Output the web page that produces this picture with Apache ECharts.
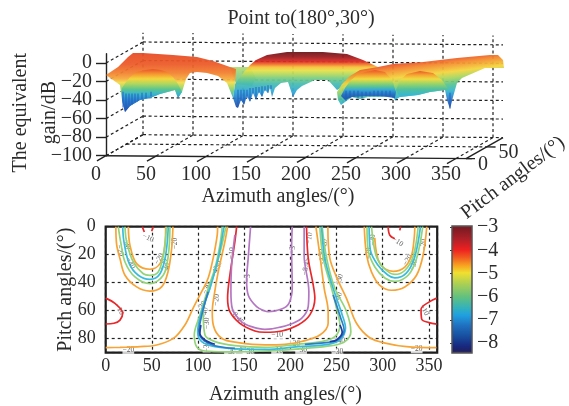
<!DOCTYPE html>
<html>
<head>
<meta charset="utf-8">
<title>Point to(180°,30°)</title>
<script src="https://cdn.jsdelivr.net/npm/echarts@6/dist/echarts.min.js"></script>
<style>
  html, body { margin: 0; background: #fff; }
  #chart { width: 569px; height: 406px; }
</style>
</head>
<body>
<div id="chart"></div>
<script>
// tick labels
const azimuthTicks3d = [0, 50, 100, 150, 200, 250, 300, 350]
const gainTicks = [-100, -80, -60, -40, -20, 0]
const pitchTicks3d = [0, 50]
const colorbarTicks = [-8, -7, -6, -5, -4, -3]

// top surface, [azimuth, gain] as read on the front plane of the box
const surfaceRoofLeft = [[0, -12.9], [12, -4.3], [22, 6.5], [27, 10.8], [37, 10.8], [67, 8.6], [91, 6.5], [107, 2.2], [124, -4.3], [130, -6.5], [129, -23.7], [127, -37.8], [121, -21.6], [112, -14], [101, -10.8], [91, -9.7], [84, -10.8], [80, -17.3], [76, -31.3], [72, -37.8], [69, -29.1], [54, -33.4], [44, -37.8], [34, -39.9], [24, -46.4], [19, -52.9], [16, -39.9], [14, -23.7]]
const surfaceArchLeft = [[16, -27], [20, -20.5], [24, -15.1], [31, -9.7], [39, -7.6], [47, -6.5], [55, -7.6], [61, -9.7], [67, -15.1], [72, -22.7], [76, -31.3], [72, -37.8], [69, -29.1], [54, -33.4], [44, -37.8], [34, -39.9], [24, -46.4], [19, -52.9], [16, -39.9]]
const surfaceNotch = [[124, -4.3], [144, -4.3], [150, -16.2], [146, -24.8], [130, -22.7]]
const surfaceCentre = [[129, -22.7], [132, -18.3], [138, -9.7], [144, -2.2], [150, 3.2], [161, 8.6], [181, 11.9], [217, 11.9], [241, 9.7], [257, 3.2], [272, -4.3], [231, -29.1], [222, -18.3], [209, -18.3], [196, -24.8], [191, -29.1], [187, -36.7], [182, -20.5], [175, -21.6], [169, -27], [166, -36.7], [164, -27], [162, -32.4], [159, -29.1], [156, -36.7], [153, -31.3], [150, -39.9], [147, -32.4], [144, -42.1], [141, -35.6], [138, -45.3], [135, -39.9], [132, -48.6], [130, -47.5], [127, -37.8]]
const surfaceRight = [[231, -31.3], [236, -22.7], [244, -14], [254, -7.6], [272, -4.3], [287, -1.1], [317, 1.1], [351, 5.4], [384, 8.6], [392, 8.6], [397, 3.2], [398, -5.4], [379, -5.4], [356, -16.2], [351, -21.6], [347, -36.7], [344, -49.6], [341, -39.9], [339, -29.1], [324, -31.3], [312, -34.5], [294, -36.7], [289, -39.9], [286, -35.6], [274, -36.7], [262, -36.7], [254, -38.8], [246, -36.7], [239, -42.1], [235, -45.3], [232, -39.9]]
const surfaceArchMid = [[235, -35.6], [239, -27], [244, -19.4], [251, -12.9], [259, -9.7], [269, -7.6], [279, -9.7], [286, -18.3], [290, -31.3], [289, -37.8], [274, -35.6], [262, -35.6], [246, -36.7], [239, -39.9]]
const surfaceArchRight = [[290, -29.1], [294, -18.3], [301, -11.9], [314, -8.6], [327, -10.8], [336, -18.3], [343, -29.1], [339, -29.1], [324, -31.3], [312, -34.5], [294, -36.7]]
// blue streaks under the surface, [azimuth, gain from, gain to]
const surfaceStreaks = [[17, -31, -48], [20, -33, -50], [23, -33, -45], [26, -33, -44], [29, -33, -42], [32, -33, -41], [36, -32, -39], [40, -32, -38], [45, -31, -36],
  [132, -29, -47], [135, -29, -41], [138, -29, -44], [141, -29, -38], [144, -27, -41], [147, -27, -33], [150, -26, -39], [153, -26, -32], [156, -25, -36], [159, -25, -30], [162, -24, -32], [165, -24, -28],
  [240, -30, -41], [244, -30, -37], [248, -30, -37], [252, -30, -38], [256, -31, -38], [260, -31, -36], [264, -31, -36], [268, -30, -36], [272, -30, -36], [276, -30, -36], [280, -30, -36], [284, -30, -36],
  [344, -32, -49]]

// bottom contours, [azimuth, pitch]
const orangeLeftOuter = [[11, 0], [11.9, 13], [15.5, 22.9], [20.9, 34.7], [33.5, 43], [47.9, 46], [60.6, 43], [67.4, 32.4], [71.4, 15.7], [72.8, 0]]
const orangeLeftInner = [[24.5, 0], [26.3, 13.3], [33.5, 26.4], [47.9, 30.4], [58.8, 26.4], [64.2, 13.3], [64.9, 0]]
const greenLeftOuter = [[13.6, 0], [16.2, 10.9], [20.9, 25.2], [31.7, 35.9], [47.9, 40.7], [62.3, 34.7], [67.8, 20.4], [69.6, 0]]
const greenLeftInner = [[20.9, 0], [22.7, 10.9], [29.9, 25.2], [40.7, 33.6], [47.9, 34.7], [56.9, 32.4], [62.3, 20.4], [66, 0]]
const cyanLeft = [[18.4, 0], [19.8, 10.9], [25.5, 26.4], [35.3, 34.7], [47.9, 37.6], [58.8, 33.6], [64.9, 20.4], [67.8, 0]]
const orangeMidLeft = [[0, 86.4], [15.5, 86.2], [37.2, 85.7], [55.2, 84.5], [73.3, 79.8], [85.8, 70.2], [94.8, 58], [103.9, 46.4], [111, 36.6], [116.4, 22.4], [120.8, 5.9], [121.2, 0]]
const orangeMidInner = [[132, 0], [129.1, 10.7], [121.9, 32.1], [117.5, 48.8], [115.4, 60.7], [116.5, 70.2], [125.5, 79.7], [143.5, 82.8], [172.4, 84.4], [194, 84], [212.1, 82], [231.9, 77.4], [240.9, 69], [240.9, 60.7], [236.6, 44], [231.9, 20.2], [227.6, 0]]
const orangeMidRight = [[240.6, 0], [242.7, 22.4], [250.6, 36.9], [261.5, 52.4], [271.6, 69], [286, 79.3], [304.1, 83.3], [325.8, 85.7], [358.2, 86.4]]
const greenMidOuter = [[126.2, 0], [123.7, 13], [118.3, 29.7], [111, 44], [102.1, 63], [95.9, 77.4], [98.5, 85.7], [107.5, 88.8], [129.1, 89.4], [172.4, 88.8], [215.7, 86.9], [244.6, 85], [259, 82.1], [265.5, 75], [260.8, 60.7], [248.2, 44], [239.2, 22.4], [234.4, 0]]
const greenMidInner = [[130.2, 0], [125.9, 13], [120.1, 27.4], [112.9, 44], [105.6, 60.7], [107.5, 77.4], [118.3, 82.1], [139.9, 85], [172.4, 86.2], [208.4, 84], [233.8, 82.1], [248.2, 78.6], [253.6, 70.2], [250, 58.3], [244.6, 44], [235.5, 22.4], [231.9, 0]]
const cyanMid = [[128, 0], [121.9, 22.4], [112.9, 43.8], [103.9, 60.7], [99.6, 75], [103.9, 82.1], [118.3, 85.7], [147.2, 87.4], [172.4, 87.6], [208.4, 85.7], [240.9, 84], [253.6, 80.9], [259.7, 72.4], [256.1, 63], [246.3, 44], [237.3, 22.6], [233.8, 0]]
const blueMidLeft = [[111, 46.4], [104.5, 61.9], [101, 75], [105.6, 80.9], [118.3, 85], [139.9, 86.9]]
const blueMidRight = [[215.7, 84], [240.9, 82.6], [252.5, 80.2], [258.2, 73.8], [254.6, 65.4], [246.3, 48.8]]
const navyMidLeft = [[103.1, 70.2], [102, 76.1], [107.5, 80.9], [118.3, 84]]
const navyMidRight = [[242.7, 82.1], [250, 80.9], [256.1, 75.4], [253.6, 70.2]]
const redTopLeftA = [[39.6, 0], [41.8, 3.8]]
const redTopLeftB = [[51.5, 0], [49.8, 3.3]]
const redEdgeLeft = [[0, 51], [10, 54.8], [18.4, 61.9], [15.5, 66.7], [9, 69], [0, 69.5]]
const redMid = [[141.8, 0], [139.9, 10.7], [134.5, 34.5], [132, 51.1], [134.5, 60.7], [145.3, 69], [161.6, 74.5], [172.4, 75.4], [190.5, 74.5], [208.4, 70.2], [221.1, 63], [226.5, 51.1], [224.7, 41.6], [219.3, 22.4], [217.5, 0]]
const purpleOuter = [[139.9, 5.9], [136.4, 27.4], [135.6, 46.4], [137, 58.3], [147.2, 67.9], [158, 71.4], [172.4, 73.3], [179.7, 73], [197.6, 70.2], [212.1, 65.4], [219.3, 57.1], [220, 46.4], [214.9, 20.2], [214.9, 0]]
const purpleInner = [[156.9, 0], [154.3, 22.6], [152.6, 38.1], [154.3, 48.8], [163.4, 57.1], [172.4, 60.2], [176, 60.7], [190.5, 58.8], [198.4, 54.7], [202, 43.8], [201.3, 15.2], [202, 0]]
const orangeRightOuter = [[280, 0], [282.5, 20.2], [287.9, 32.4], [296.9, 41.9], [309.5, 45.4], [323.9, 43], [336.6, 34.7], [343.7, 20.4], [347.7, 0]]
const orangeRightInner = [[291.4, 8], [296.9, 26.4], [311.3, 31.9], [323.9, 28.8], [331.2, 20.4], [334, 8.6], [334.8, 0]]
const greenRightOuter = [[283, 0], [284.2, 16.6], [291.5, 28.8], [302.3, 36.6], [313.1, 39], [327.5, 34.7], [336.6, 22.9], [343.4, 0]]
const greenRightInner = [[287.9, 0], [292.6, 20.2], [301.2, 29.5], [313.1, 34.1], [323.9, 31.3], [333.1, 20.9], [338.4, 0]]
const cyanRight = [[285.3, 0], [286.6, 16.6], [294.7, 27.4], [305.5, 34.5], [313.1, 36.6], [325.5, 33.1], [334.7, 21.6], [340.9, 0]]
const redTopRightA = [[305.8, 0], [307.7, 6.1], [313.1, 8.6]]
const redTopRightB = [[319.3, 0], [318.5, 2.6]]
const redEdgeRight = [[358.5, 51], [350.9, 53.5], [341.5, 59], [342.2, 66], [350, 68.5], [358.5, 69.6]]

// contour labels, [azimuth, pitch, text, rotation]
const contourLabels = [
  [45.8, 8, '−10', -25], [15.5, 17, '−20', -75], [23, 12, '−30', -80], [27, 26, '−40', -60],
  [58, 23, '−20', 60], [63, 27, '−30', 65], [66, 30, '−40', 70], [75, 12, '−20', 90],
  [14.8, 59, '−10', -60], [24.5, 88, '−20', 0], [121.9, 28.6, '−30', 75], [119, 32, '−40', 75],
  [109.3, 44, '−30', 70], [120, 52.4, '−20', 85], [103.9, 57, '−20', 60], [107.5, 61.9, '−40', 80],
  [109.3, 69, '−30', 90], [109.3, 85.7, '−30', 90], [136.4, 19, '−10', 85], [154.3, 36.9, '−3', 90],
  [141.8, 64.3, '−8.45', -50], [134.6, 89.5, '−30', 0], [145.5, 88, '−40', 0], [154.5, 89.5, '−30', 0],
  [185.6, 77.4, '−10', 0], [185.6, 88.5, '−10', 0], [204.3, 84, '−20', 0], [211.6, 88, '−30', 0],
  [250.9, 89.5, '−30', 0], [252.7, 82, '−40', 0], [336.8, 87.6, '−20', 0], [220.6, 8.3, '−10', 80],
  [217, 28.6, '−8.45', 80], [202.5, 16.7, '−3', 90], [236.9, 13, '−20', 80], [233.3, 20.2, '−30', 80],
  [236.2, 24, '−40', 70], [253.1, 38, '−30', 70], [252, 51, '−40', 70], [289, 9.5, '−30', 90],
  [285.3, 19, '−20', 90], [316.2, 10.7, '−10', -35], [327, 23.8, '−20', 60], [333.6, 27.4, '−30', 70],
  [345, 13, '−20', 90], [345, 59.5, '−10', -60]
]

const serif = 'Liberation Serif'
const textColor = '#2b2b2b'
const ORANGE = '#f7a436'
const GREEN = '#93d47a'
const CYAN = '#39bcdc'
const BLUE = '#2b7cc9'
const NAVY = '#1c3f9e'
const RED = '#e8282a'
const PURPLE = '#b377c4'

const contours = [
  [orangeLeftOuter, ORANGE], [orangeLeftInner, ORANGE], [greenLeftOuter, GREEN], [greenLeftInner, GREEN], [cyanLeft, CYAN],
  [orangeMidLeft, ORANGE], [orangeMidInner, ORANGE], [orangeMidRight, ORANGE], [greenMidOuter, GREEN], [greenMidInner, GREEN],
  [cyanMid, CYAN], [blueMidLeft, BLUE], [blueMidRight, BLUE], [navyMidLeft, NAVY], [navyMidRight, NAVY],
  [redTopLeftA, RED], [redTopLeftB, RED], [redEdgeLeft, RED], [redMid, RED], [purpleOuter, PURPLE], [purpleInner, PURPLE],
  [orangeRightOuter, ORANGE], [orangeRightInner, ORANGE], [greenRightOuter, GREEN], [greenRightInner, GREEN], [cyanRight, CYAN],
  [redTopRightA, RED], [redTopRightB, RED], [redEdgeRight, RED]
]

// surface pieces in drawing order, with from/to of the colour ramp in [azimuth, gain]
const surfaceLayers = [
  { points: surfaceNotch, ramp: [0, -4.3, 0, -24.8], stops: [[0, '#b4dc74'], [1, '#58c0a0']] },
  { points: surfaceCentre, ramp: [0, 11.9, 0, -48.6], stops: [[0, '#6a1418'], [0.09, '#9c1c20'], [0.17, '#dc2a22'], [0.22, '#f0702a'], [0.27, '#f8c038'], [0.33, '#e6e048'], [0.4, '#b2d860'], [0.47, '#78cc84'], [0.57, '#48bcb0'], [0.71, '#30a8d8'], [0.86, '#2672c4'], [1, '#1c48a8']] },
  { points: surfaceRoofLeft, ramp: [0, 10.8, 0, -50.7], stops: [[0, '#e64a24'], [0.2, '#ec5a28'], [0.35, '#f2802e'], [0.45, '#f7a83c'], [0.52, '#f2dc48'], [0.62, '#98d468'], [0.72, '#50c09c'], [0.82, '#35a8d8'], [1, '#1f4fb0']] },
  { points: surfaceArchLeft, ramp: [0, -6.5, 0, -52.9], stops: [[0, '#e9502a'], [0.12, '#f59a30'], [0.23, '#f4d83c'], [0.35, '#a8d660'], [0.47, '#58c48f'], [0.58, '#38b5cf'], [0.72, '#2a80d0'], [1, '#1f4fb0']] },
  { points: surfaceRight, ramp: [314, 3.2, 319.8, -50.7], stops: [[0, '#e8452a'], [0.12, '#f4852c'], [0.3, '#f4d53c'], [0.42, '#a9d65e'], [0.55, '#58c48f'], [0.68, '#35b5d0'], [0.82, '#2a7fd0'], [1, '#1f4fb0']] },
  { points: surfaceArchMid, ramp: [0, -7.6, 0, -37.8], stops: [[0, '#ea5226'], [0.18, '#f5a030'], [0.32, '#f2dc40'], [0.46, '#98d468'], [0.6, '#50c09c'], [0.71, '#30a4dc'], [0.86, '#2470c4'], [1, '#1f58b4']] },
  { points: surfaceArchRight, ramp: [0, -8.6, 0, -36.7], stops: [[0, '#ea5226'], [0.15, '#f5a030'], [0.31, '#f2dc40'], [0.5, '#98d468'], [0.7, '#50c09c'], [0.92, '#38b8d0']] }
]

const colorbarStops = [[0, '#8a3a40'], [0.02, '#7a1a22'], [0.11, '#b02028'], [0.19, '#ee2020'], [0.25, '#f05a20'], [0.31, '#f8a020'], [0.37, '#f0e030'], [0.45, '#b0d050'], [0.56, '#60c080'], [0.65, '#30b0c0'], [0.7, '#20a0e0'], [0.78, '#2070c0'], [0.86, '#1850a0'], [0.94, '#182880'], [0.98, '#202060'], [1, '#555570']]

// box depth on screen for pitch 0..90, and the slight roll of the box
const depthX = 37
const depthY = 21
const roll = 0.008
const pitchMax = 90
const azimuthEnd = 360

const minus = v => String(v).replace('-', '−')

function project (api, az, pitch, gain) {
  const p = api.coord([az, gain])
  return [p[0] + pitch / pitchMax * depthX, p[1] - pitch / pitchMax * depthY + az * roll]
}

function gradient (api, layer) {
  const a = api.coord([layer.ramp[0], layer.ramp[1]])
  const b = api.coord([layer.ramp[2], layer.ramp[3]])
  const colorStops = layer.stops.map(s => ({ offset: s[0], color: s[1] }))
  return new echarts.graphic.LinearGradient(a[0], a[1], b[0], b[1], colorStops, true)
}

// frame of the 3d box: [az0, pitch0, gain0, az1, pitch1, gain1, dashed]
const frameLines = []
azimuthTicks3d.forEach(az => {
  frameLines.push([az, 90, -100, az, 90, 10, 1])
  frameLines.push([az, 0, -100, az, 90, -100, 1])
  frameLines.push([az, -22, -100, az, 0, -100, 0])
})
gainTicks.forEach(g => {
  frameLines.push([0, 90, g, azimuthEnd, 90, g, 1])
  frameLines.push([0, 0, g, 0, 90, g, 1])
})
frameLines.push([0, 50, -100, azimuthEnd, 50, -100, 1])
frameLines.push([0, 0, -100, azimuthEnd + 6, 0, -100, 0])
frameLines.push([azimuthEnd, 0, -100, azimuthEnd, 90, -100, 0])
pitchTicks3d.forEach(p => frameLines.push([azimuthEnd, p, -100, azimuthEnd + 9, p, -100, 0]))

const series = [
  {
    type: 'custom',
    xAxisIndex: 0,
    yAxisIndex: 0,
    silent: true,
    data: frameLines,
    renderItem: (params, api) => {
      const a = project(api, api.value(0), api.value(1), api.value(2))
      const b = project(api, api.value(3), api.value(4), api.value(5))
      const dashed = api.value(6) === 1
      return {
        type: 'line',
        shape: { x1: a[0], y1: a[1], x2: b[0], y2: b[1] },
        style: { stroke: '#222', lineWidth: dashed ? 1.2 : 1.4, lineDash: dashed ? [3, 2.6] : null }
      }
    }
  },
  {
    type: 'custom',
    xAxisIndex: 0,
    yAxisIndex: 0,
    silent: true,
    data: surfaceLayers.map((l, i) => [i, 0]),
    renderItem: (params, api) => {
      const layer = surfaceLayers[api.value(0)]
      return {
        type: 'polygon',
        shape: { points: layer.points.map(p => api.coord(p)) },
        style: { fill: gradient(api, layer), opacity: 0.94 }
      }
    }
  },
  {
    type: 'custom',
    xAxisIndex: 0,
    yAxisIndex: 0,
    silent: true,
    data: surfaceStreaks,
    renderItem: (params, api) => {
      const a = api.coord([api.value(0), api.value(1)])
      const b = api.coord([api.value(0), api.value(2)])
      return {
        type: 'line',
        shape: { x1: a[0], y1: a[1], x2: b[0], y2: b[1] },
        style: { stroke: '#1f5cc0', lineWidth: 1.3, opacity: 0.7 }
      }
    }
  },
  {
    type: 'custom',
    xAxisIndex: 0,
    yAxisIndex: 0,
    silent: true,
    data: pitchTicks3d.map(p => [p, 0]),
    renderItem: (params, api) => {
      const p = project(api, azimuthEnd, api.value(0), -100)
      return {
        type: 'text',
        style: { x: p[0] + 12, y: p[1] + 6, text: String(api.value(0)), fill: textColor, font: '20px ' + serif, align: 'left', verticalAlign: 'middle' }
      }
    }
  },
  {
    // gain labels sit closer than their line height, the axis would drop some of them
    type: 'custom',
    xAxisIndex: 0,
    yAxisIndex: 0,
    silent: true,
    data: gainTicks.map(g => [0, g]),
    renderItem: (params, api) => {
      const p = api.coord([0, api.value(1)])
      return {
        type: 'text',
        style: { x: p[0] - 14, y: p[1], text: minus(api.value(1)), fill: textColor, font: '20px ' + serif, align: 'right', verticalAlign: 'middle' }
      }
    }
  }
]

contours.forEach(c => {
  series.push({
    type: 'line',
    xAxisIndex: 1,
    yAxisIndex: 1,
    data: c[0],
    showSymbol: false,
    silent: true,
    smooth: 0.35,
    lineStyle: { color: c[1], width: 1.7 }
  })
})

series.push({
  type: 'scatter',
  xAxisIndex: 1,
  yAxisIndex: 1,
  silent: true,
  symbolSize: 0,
  data: contourLabels.map(l => ({
    value: [l[0], l[1]],
    label: { formatter: l[2], rotate: l[3] }
  })),
  label: {
    show: true,
    position: 'inside',
    fontFamily: serif,
    fontSize: 7.5,
    color: '#333',
    backgroundColor: '#fff'
  }
})

series.push({
  type: 'custom',
  xAxisIndex: 2,
  yAxisIndex: 2,
  silent: true,
  data: [[0, -2.95, 1, -8.42]],
  renderItem: (params, api) => {
    const a = api.coord([api.value(0), api.value(1)])
    const b = api.coord([api.value(2), api.value(3)])
    return {
      type: 'rect',
      shape: { x: a[0], y: a[1], width: b[0] - a[0], height: b[1] - a[1] },
      style: {
        fill: new echarts.graphic.LinearGradient(0, 0, 0, 1, colorbarStops.map(s => ({ offset: s[0], color: s[1] }))),
        stroke: '#555',
        lineWidth: 1.5
      }
    }
  }
})

const bigLabel = { fontFamily: serif, fontSize: 20, color: textColor }
const smallLabel = { fontFamily: serif, fontSize: 18, color: textColor }

const option = {
  animation: false,
  backgroundColor: '#fff',
  title: {
    text: 'Point to(180°,30°)',
    left: 296,
    top: 4,
    textAlign: 'center',
    textStyle: { fontFamily: serif, fontSize: 20, fontWeight: 'normal', color: textColor }
  },
  grid: [
    { left: 106, top: 53.7, width: 366, height: 102, outerBoundsMode: 'none' },
    { left: 105.7, top: 226.7, width: 331.5, height: 126, show: true, borderColor: '#1c1c1c', borderWidth: 2.2, outerBoundsMode: 'none' },
    { left: 452, top: 226, width: 20, height: 127, outerBoundsMode: 'none' }
  ],
  xAxis: [
    {
      type: 'value',
      gridIndex: 0,
      min: 0,
      max: 366,
      name: 'Azimuth angles/(°)',
      nameLocation: 'center',
      nameGap: 31,
      nameMoveOverlap: false,
      nameTextStyle: { ...bigLabel, padding: [0, 22, 0, 0] },
      axisLine: { show: false },
      axisTick: { show: false },
      splitLine: { show: false },
      axisLabel: { ...bigLabel, customValues: azimuthTicks3d, margin: 9, padding: [0, 20, 0, 0] }
    },
    {
      type: 'value',
      gridIndex: 1,
      min: 0,
      max: 359,
      interval: 50,
      name: 'Azimuth angles/(°)',
      nameLocation: 'center',
      nameGap: 32,
      nameMoveOverlap: false,
      nameTextStyle: { ...bigLabel, padding: [0, 0, 0, 28] },
      axisLine: { show: false },
      axisTick: { show: false },
      splitLine: { show: true, lineStyle: { color: '#222', type: [3, 3], width: 1.2 } },
      axisLabel: { ...smallLabel, showMaxLabel: false, margin: 5 }
    },
    { type: 'value', gridIndex: 2, min: 0, max: 1, show: false }
  ],
  yAxis: [
    {
      type: 'value',
      gridIndex: 0,
      min: -100,
      max: 10,
      name: 'The equivalent\ngain/dB',
      nameLocation: 'center',
      nameGap: 42,
      nameMoveOverlap: false,
      nameTextStyle: { ...bigLabel, lineHeight: 29, padding: [0, 16, 0, 0] },
      axisLine: { show: true, lineStyle: { color: '#222', width: 1.4 } },
      axisTick: { show: true, length: 10, customValues: gainTicks, lineStyle: { color: '#222', width: 1.4 } },
      splitLine: { show: false },
      axisLabel: { show: false }
    },
    {
      type: 'value',
      gridIndex: 1,
      inverse: true,
      min: 0,
      max: 90,
      interval: 20,
      name: 'Pitch angles/(°)',
      nameLocation: 'center',
      nameGap: 30,
      nameMoveOverlap: false,
      nameTextStyle: bigLabel,
      axisLine: { show: false },
      axisTick: { show: false },
      splitLine: { show: true, lineStyle: { color: '#222', type: [3, 3], width: 1.2 } },
      axisLabel: { ...smallLabel, showMaxLabel: false, margin: 10 }
    },
    {
      type: 'value',
      gridIndex: 2,
      position: 'right',
      min: -8.42,
      max: -2.95,
      axisLine: { show: false },
      axisTick: { show: true, inside: true, length: 2, customValues: colorbarTicks, lineStyle: { color: '#333' } },
      splitLine: { show: false },
      axisLabel: { ...bigLabel, customValues: colorbarTicks, margin: 5, formatter: minus, showMinLabel: true, showMaxLabel: true }
    }
  ],
  graphic: [
    {
      type: 'text',
      x: 513,
      y: 178,
      rotation: 37 * Math.PI / 180,
      silent: true,
      style: { text: 'Pitch angles/(°)', fill: textColor, font: '20px ' + serif, align: 'center', verticalAlign: 'middle' }
    }
  ],
  series: series
}

const chart = echarts.init(document.getElementById('chart'))
chart.setOption(option)
</script>
</body>
</html>
